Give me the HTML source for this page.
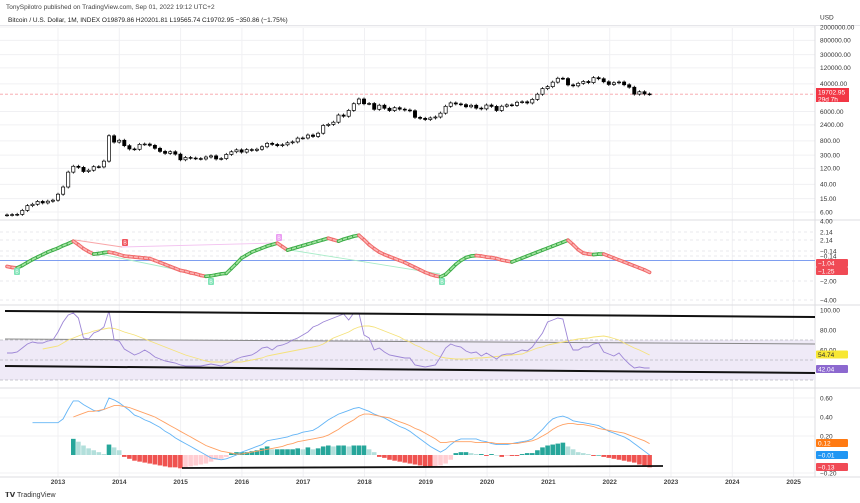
<!DOCTYPE html>
<html><head><meta charset="utf-8"><style>
body{margin:0;background:#fff;}
svg{display:block;font-family:"Liberation Sans",sans-serif;}
</style></head><body>
<svg id="c" width="860" height="503" viewBox="0 0 860 503">
<text x="6" y="9" font-size="6.5" fill="#444">TonySpilotro published on TradingView.com, Sep 01, 2022 19:12 UTC+2</text>
<text x="8" y="22" font-size="6.5" fill="#222">Bitcoin / U.S. Dollar, 1M, INDEX  O19879.86  H20201.81  L19565.74  C19702.95  −350.86 (−1.75%)</text>
<g id="grid"></g><g id="marks"></g><g id="axes"></g>
</svg>
<script>
const closes=[4.9,5.0,5.1,6.7,9.3,10.2,12.4,11.2,12.6,13.5,
20.4,33.4,93,139,129,97,106,135,133,198,1130,732,
830,573,457,447,628,640,586,478,386,338,378,320,
217,254,244,236,230,263,284,230,236,314,377,430,
368,437,416,448,531,673,624,573,608,698,742,963,
970,1190,1080,1348,2300,2480,2875,4703,4338,6468,10233,14156,
10221,10397,6973,9240,7494,6404,7780,7037,6625,6318,4018,3742,
3457,3854,4105,5350,8574,10817,10085,9630,8293,9199,7569,7194,
9350,8523,6424,8624,9454,9138,11323,11680,10784,13781,19700,28990,
33114,45137,58918,57750,37332,35040,41626,47166,43790,61318,57005,46306,
38483,43194,45538,37714,31792,19785,23336,20050,19702];
const osc=[-0.6,-0.7,-0.75,
-0.5,-0.2,0.1,0.35,0.6,0.85,1.05,1.25,1.5,1.7,1.95,
1.6,1.2,0.9,0.65,0.7,0.8,0.85,
0.75,0.6,0.45,0.4,0.35,0.3,0.25,0.2,0.0,-0.2,-0.4,-0.6,-0.8,-1.0,-1.1,-1.25,-1.35,-1.5,-1.6,
-1.55,-1.45,-1.35,-1.3,-0.8,-0.3,0.25,0.55,0.85,1.05,1.25,1.45,1.6,1.75,
1.4,1.05,1.2,1.35,1.5,1.65,1.8,1.95,2.1,2.25,2.1,1.95,2.15,2.3,2.45,2.55,
2.1,1.6,1.2,0.85,0.6,0.4,0.2,0.0,-0.2,-0.45,-0.7,-0.95,-1.2,-1.4,-1.55,-1.65,
-1.4,-0.9,-0.4,0.0,0.3,0.45,0.5,0.45,0.35,0.3,0.2,0.05,-0.05,-0.15,
0.05,0.25,0.45,0.65,0.85,1.05,1.25,1.45,1.65,1.85,2.05,
1.6,1.1,0.75,0.65,0.6,0.65,0.65,0.45,0.25,0.05,-0.15,-0.35,-0.55,-0.75,-0.95,-1.2];
const rsi=[57,57,58,62,66,68,67,67,69,70,78,88,95,97,92,72,71,77,79,83,99,70,69,61,58,55,57,60,57,53,51,49,48,47,45,44,44,44,44,45,46,45,44,46,48,51,53,54,55,58,62,63,60,64,65,67,70,72,75,78,83,85,88,90,92,94,96,90,97,97,75,72,60,62,58,55,54,53,52,52,45,44,43,44,45,53,62,66,64,63,59,57,58,54,57,54,51,55,56,56,58,60,59,63,70,77,88,90,92,91,70,60,60,63,63,66,67,58,56,54,57,51,46,42,43,42,42];
const rsiMaStart=7;
const rsiMa=[61,62,63,64,67,70,72,74,76,77,79,80,81,82,81.5,80,78,76.5,75,73,71,69,67,65,63,61,59,57,55,53.5,52,50.5,49,48,48,48,48,48,48,48,49,50,51,52,54,55,56,57,58,59,60,61,62,63,64,66,69,72,74,76,78,81,83,84,84,83,81,79,77,75,73,70,68,65,63,60,58,55,53,52,51.5,51,51,51,51.5,52,52,52.5,53,53.5,54,54.5,55,55.5,56,58,60,62,63,65,66,67,68,69,70,71,71.5,72,73,73.5,74,73,71.5,70,67,64.5,62,60,57.5,55];
const macdStart=5;
const macd=[.34,.34,.34,.34,.34,.34,.38,.48,.57,.57,.53,.5,.47,.46,.48,.6,.58,.55,.51,.47,.42,.4,.37,.35,.32,.29,.25,.22,.18,.15,.12,.09,.06,.03,0,-.03,-.04,-.05,-.04,-.02,0,.03,.05,.07,.09,.11,.15,.16,.17,.18,.19,.21,.22,.24,.25,.26,.29,.33,.37,.4,.43,.45,.47,.49,.5,.48,.46,.43,.41,.39,.36,.33,.3,.28,.25,.21,.17,.13,.09,.06,.03,.06,.11,.15,.17,.17,.17,.17,.15,.14,.12,.11,.11,.11,.12,.13,.14,.15,.17,.22,.27,.33,.38,.4,.41,.39,.36,.35,.34,.33,.32,.31,.28,.25,.23,.21,.19,.16,.12,.08,.04,0];
const sigStart=13;
const signal=[.4,.42,.44,.46,.46,.47,.48,.5,.52,.52,.51,.5,.48,.46,.44,.42,.4,.37,.34,.31,.28,.25,.22,.19,.16,.13,.1,.08,.06,.04,.03,.02,.01,.01,.02,.03,.04,.05,.06,.07,.08,.09,.11,.12,.14,.15,.16,.17,.18,.19,.21,.24,.27,.31,.34,.37,.41,.43,.43,.42,.41,.4,.39,.37,.35,.33,.31,.28,.26,.23,.2,.17,.13,.13,.14,.14,.14,.14,.14,.13,.13,.13,.13,.12,.12,.12,.12,.12,.13,.14,.15,.17,.2,.23,.27,.3,.32,.33,.33,.32,.32,.31,.3,.28,.27,.26,.25,.24,.23,.21,.19,.17,.15,.12];
const histStart=13;
const hist=[.17,.14,.1,.07,.05,.03,.01,.11,.08,.05,-.02,-.04,-.06,-.07,-.08,-.09,-.1,-.11,-.12,-.13,-.13,-.14,-.13,-.12,-.11,-.1,-.09,-.07,-.05,-.04,-.02,.02,.03,.03,.03,.04,.05,.07,.09,.06,.06,.06,.06,.06,.07,.06,.08,.06,.07,.09,.1,.09,.1,.1,.09,.1,.1,.1,.06,.03,-.02,-.03,-.05,-.06,-.07,-.08,-.09,-.1,-.11,-.12,-.13,-.12,-.11,-.09,-.05,.02,.03,.03,.02,.01,.01,-.01,.01,0,-.02,-.01,-.01,-.01,.01,.02,.02,.05,.08,.1,.11,.12,.13,.09,.06,.03,.02,.01,-.01,0,-.02,-.03,-.04,-.05,-.06,-.07,-.08,-.1,-.11,-.13];
const years=["2013","2014","2015","2016","2017","2018","2019","2020","2021","2022","2023","2024","2025"];
const priceTicks=[2000000,800000,300000,120000,40000,6000,2400,800,300,120,40,15,6];

const NS="http://www.w3.org/2000/svg";
const G=document.getElementById('grid'),M=document.getElementById('marks'),A=document.getElementById('axes');
function el(p,t,a){const e=document.createElementNS(NS,t);for(const k in a)e.setAttribute(k,a[k]);p.appendChild(e);return e;}
const xi=i=>7+5.1*i;
const yearX=k=>58+61.3*k;
const yP=p=>212-(Math.log10(p)-Math.log10(6))*33.5;
const yO=v=>260.5-v*9.9;
const yR=v=>410-v;
const yM=v=>455-v*95;
const AX=815;

// grid
years.forEach((y,k)=>{const l=el(G,'line',{x1:yearX(k),x2:yearX(k),y1:28,y2:477,stroke:'#f0f0f3','stroke-width':1});

});
priceTicks.forEach(p=>{el(G,'line',{x1:0,x2:AX,y1:yP(p),y2:yP(p),stroke:'#f0f0f3'});});
[232,240,251,256,281,300].forEach(y=>el(G,'line',{x1:0,x2:AX,y1:y,y2:y,stroke:'#e8e8ec','stroke-dasharray':'3,3'}));
[398,417,436,473].forEach(y=>el(G,'line',{x1:0,x2:AX,y1:y,y2:y,stroke:'#f0f0f3'}));
// panel separators
[220,305,388,477,0].forEach(y=>{if(y)el(G,'line',{x1:0,x2:860,y1:y,y2:y,stroke:'#dcdce0'});});
el(G,'line',{x1:AX,x2:AX,y1:26,y2:477,stroke:'#dcdce0'});
el(G,'line',{x1:0,x2:860,y1:25.5,y2:25.5,stroke:'#e6e6ea'});
// last price line
let lp=el(G,'line',{x1:0,x2:AX,y1:yP(closes[closes.length-1]),y2:yP(closes[closes.length-1]),stroke:'#f7a1a8','stroke-dasharray':'3,2','stroke-width':0.8});



// candles
closes.forEach((c,i)=>{const o=i?closes[i-1]:c*0.98;const x=xi(i);
const t=yP(Math.max(o,c)),b=yP(Math.min(o,c));
const up=c>=o;
el(M,'line',{x1:x,x2:x,y1:t-1.5,y2:b+1.5,stroke:'#000','stroke-width':0.8});
const r=el(M,'rect',{x:x-1.6,y:t,width:3.2,height:Math.max(b-t,0.8),fill:up?'#fff':'#000',stroke:'#000','stroke-width':0.7});

});

// oscillator panel
el(M,'line',{x1:0,x2:AX,y1:yO(0),y2:yO(0),stroke:'#7e9ef0','stroke-width':1});
[[75,240,122,247,'#f8a5a8'],[122,247,275,243,'#f3c3f0'],[100,254,208,276,'#a8ecc8'],[290,250,440,274,'#a8ecc8']].forEach(s=>el(M,'line',{x1:s[0],y1:s[1],x2:s[2],y2:s[3],stroke:s[4],'stroke-width':0.9}));
for(let i=1;i<osc.length;i++){const up=osc[i]>=osc[i-1];
const a={x1:xi(i-1),x2:xi(i),y1:yO(osc[i-1]),y2:yO(osc[i])};
el(M,'line',Object.assign({stroke:up?'#3fae4a':'#f06a6a','stroke-width':3.6,'stroke-linecap':'round'},a));
const s=el(M,'line',Object.assign({stroke:up?'#a6e3a4':'#fbb4b4','stroke-width':1.6,'stroke-linecap':'round'},a));

}
[[17,272,'#7fe3b6'],[125,243,'#f0545e'],[279,238,'#ea9cf2'],[211,282,'#7fe3b6'],[442,282,'#7fe3b6']].forEach(b=>{
const g=el(M,'g',{});
el(g,'rect',{x:b[0]-3,y:b[1]-4,width:6,height:7,rx:1,fill:b[2]});
const t=el(g,'text',{x:b[0],y:b[1]+1.5,'font-size':5,fill:'#fff','text-anchor':'middle'});t.textContent='B';});

// RSI panel
el(M,'rect',{x:0,y:yR(70),width:AX,height:yR(30)-yR(70),fill:'#efeaf7'});
[70,50,30].forEach(v=>el(M,'line',{x1:0,x2:AX,y1:yR(v),y2:yR(v),stroke:'#b8b8c0','stroke-dasharray':'3,2','stroke-width':0.7}));
el(M,'line',{x1:5,y1:339,x2:AX,y2:344,stroke:'#888','stroke-width':1});
let pts=rsiMa.map((v,k)=>xi(k+rsiMaStart).toFixed(1)+','+yR(v).toFixed(1)).join(' ');
let pl=el(M,'polyline',{points:pts,fill:'none',stroke:'#f5e27a','stroke-width':0.9});

pts=rsi.map((v,i)=>xi(i).toFixed(1)+','+yR(v).toFixed(1)).join(' ');
pl=el(M,'polyline',{points:pts,fill:'none',stroke:'#9d86d6','stroke-width':0.9});

let tl=el(M,'line',{x1:5,y1:311,x2:AX,y2:317,stroke:'#111','stroke-width':2});

tl=el(M,'line',{x1:5,y1:366,x2:AX,y2:373,stroke:'#111','stroke-width':2});


// MACD panel
hist.forEach((v,k)=>{const i=k+histStart;const prev=k?hist[k-1]:0;
let col=v>=0?(v>=prev?'#26a69a':'#b2dfdb'):(v<=prev?'#ef5350':'#ffcdd2');
const y0=yM(0),y1=yM(v);
const r=el(M,'rect',{x:xi(i)-2.3,y:Math.min(y0,y1),width:4.6,height:Math.max(Math.abs(y1-y0),0.6),fill:col});

});
pts=macd.map((v,k)=>xi(k+macdStart).toFixed(1)+','+yM(v).toFixed(1)).join(' ');
pl=el(M,'polyline',{points:pts,fill:'none',stroke:'#64b5f6','stroke-width':0.9});

pts=signal.map((v,k)=>xi(k+sigStart).toFixed(1)+','+yM(v).toFixed(1)).join(' ');
pl=el(M,'polyline',{points:pts,fill:'none',stroke:'#ffa062','stroke-width':0.9});

tl=el(M,'line',{x1:182,y1:468,x2:663,y2:466,stroke:'#111','stroke-width':1.8});


// axes labels
function lab(x,y,txt,name,fill){const t=el(A,'text',{x:x,y:y+2.3,'font-size':6.5,fill:fill||'#333'});t.textContent=txt;
return t;}
function box(y,txt,bg,fg,name){el(A,'rect',{x:816,y:y-4,width:32,height:8,fill:bg,rx:1});lab(818,y,txt,name,fg||'#fff');}
lab(820,17,'USD','currency-label');
priceTicks.forEach(p=>lab(820,yP(p),p.toFixed(2),'price-tick'));
el(A,'rect',{x:816,y:88,width:33,height:14,fill:'#f23645'});
lab(818,92,'19702.95','last-price-label','#fff');lab(818,99,'29d 7h','countdown-label','#fff');
[[221,'4.00'],[232,'2.14'],[240,'2.14'],[251,'−0.14'],[256,'−0.14'],[281,'−2.00'],[300,'−4.00']].forEach(a=>lab(820,a[0],a[1],'oscillator-tick'));
box(263,'−1.04','#f04a55','#fff','oscillator-value-1');box(271,'−1.25','#f04a55','#fff','oscillator-value-2');
[[310,'100.00'],[330,'80.00'],[350,'60.00']].forEach(a=>lab(820,a[0],a[1],'rsi-tick'));
box(354.5,'54.74','#f7e733','#333','rsi-ma-value');box(369,'42.04','#8c68cf','#fff','rsi-value');
[[398,'0.60'],[417,'0.40'],[436,'0.20'],[473,'−0.20']].forEach(a=>lab(820,a[0],a[1],'macd-tick'));
box(443,'0.12','#ff7a12','#fff','signal-value');box(455,'−0.01','#2196f3','#fff','macd-value');box(467,'−0.13','#f04a55','#fff','histogram-value');
years.forEach((y,k)=>{const t=el(A,'text',{x:yearX(k),y:484,'font-size':6.5,'font-weight':'bold',fill:'#444','text-anchor':'middle'});t.textContent=y;
});
const f=el(A,'text',{x:5,y:497,'font-size':7,fill:'#333'});f.textContent='𝗧𝗩 TradingView';

</script>
</body></html>
